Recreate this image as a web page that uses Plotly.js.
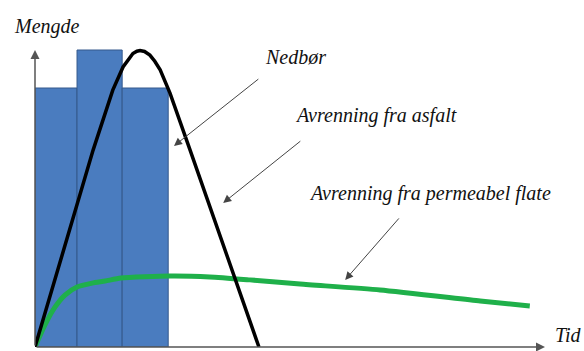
<!DOCTYPE html>
<html>
<head>
<meta charset="utf-8">
<script src="https://cdn.plot.ly/plotly-3.0.1.min.js"></script>
<style>
html,body{margin:0;padding:0;background:#fff;overflow:hidden;}
#chart svg text{font-family:'Liberation Serif','Times New Roman',serif !important;font-style:italic !important;}
</style>
</head>
<body>
<div id="chart"></div>
<script>
// Precipitation bars: time-interval edges and heights
var rainEdges = [0, 0.94, 1.95, 2.98];
var rainHeights = [8.72, 10.0, 8.72];

// Runoff from asphalt (black curve)
var asphaltT = [0, 1.30, 1.52, 1.74, 1.97, 2.10, 2.19, 2.28, 2.35, 2.45, 2.57, 2.68, 2.80, 3.02, 3.24, 3.47, 5.01];
var asphaltQ = [0, 6.63, 7.64, 8.65, 9.43, 9.72, 9.88, 9.96, 9.98, 9.95, 9.83, 9.62, 9.33, 8.55, 7.64, 6.63, 0];

// Runoff from permeable surface (green curve)
var permT = [0, 0.07, 0.22, 0.45, 0.67, 0.94, 1.28, 1.57, 1.92, 3.02, 3.91, 4.81, 5.93, 7.72, 9.96, 11.07];
var permQ = [0, 0.24, 0.74, 1.35, 1.75, 2.02, 2.15, 2.22, 2.32, 2.39, 2.36, 2.26, 2.12, 1.92, 1.55, 1.38];

var labels = {
  y: 'Mengde', x: 'Tid',
  rain: 'Nedbør', asphalt: 'Avrenning fra asfalt', perm: 'Avrenning fra permeabel flate'
};

var barX = [], barW = [];
for (var i = 0; i < rainHeights.length; i++) {
  barX.push((rainEdges[i] + rainEdges[i + 1]) / 2);
  barW.push(rainEdges[i + 1] - rainEdges[i]);
}

var xMax = 11.41, yTop = 10.0;

function txt(t, x, y, xanchor, ref) {
  return {text: t, x: x, y: y, xref: ref || 'x', yref: ref || 'y', showarrow: false,
          xanchor: xanchor || 'center', yanchor: 'middle',
          font: {family: 'Liberation Serif', size: 20, color: '#111', style: 'italic'}};
}
function arrow(hx, hy, tx, ty, w, size, col) {
  return {text: '', x: hx, y: hy, ax: tx, ay: ty, xref: 'x', yref: 'y', axref: 'x', ayref: 'y',
          showarrow: true, arrowhead: 2, arrowsize: size, arrowwidth: w, arrowcolor: col, standoff: 0, startstandoff: 0};
}

var data = [
  {type: 'bar', x: barX, y: rainHeights, width: barW,
   marker: {color: '#4a7cbf', line: {color: '#34598c', width: 1}}, hoverinfo: 'none'},
  {type: 'scatter', mode: 'lines', x: permT, y: permQ,
   line: {color: '#1fb04a', width: 5, shape: 'spline', smoothing: 0.6}, hoverinfo: 'none'},
  {type: 'scatter', mode: 'lines', x: asphaltT, y: asphaltQ,
   line: {color: '#000', width: 3.5, shape: 'linear'}, hoverinfo: 'none'}
];

var layout = {
  width: 584, height: 351,
  font: {family: 'Liberation Serif', size: 20, color: '#111'},
  margin: {l: 35, r: 39, t: 35, b: 4},
  paper_bgcolor: '#fff', plot_bgcolor: '#fff',
  showlegend: false,
  xaxis: {range: [0, xMax], visible: false, fixedrange: true},
  yaxis: {range: [0, 10.505], visible: false, fixedrange: true},
  annotations: [
    arrow(0, yTop, 0, 0, 1.5, 1.2, '#555'),
    arrow(xMax, 0, 0, 0, 1.5, 1.2, '#555'),
    txt(labels.y, 0.0235, 1.028, 'center', 'paper'),
    txt(labels.x, 1.0157, 0.04, 'left', 'paper'),
    txt(labels.rain, 5.83, 9.75, 'center'),
    txt(labels.asphalt, 7.64, 7.8, 'center'),
    txt(labels.perm, 8.83, 5.17, 'center'),
    arrow(3.11, 6.77, 5.03, 9.06, 1, 1.6, '#444'),
    arrow(4.21, 4.85, 5.97, 6.97, 1, 1.6, '#444'),
    arrow(6.94, 2.26, 8.17, 4.38, 1, 1.6, '#444')
  ]
};

Plotly.newPlot('chart', data, layout, {staticPlot: true, displayModeBar: false});
</script>
</body>
</html>
